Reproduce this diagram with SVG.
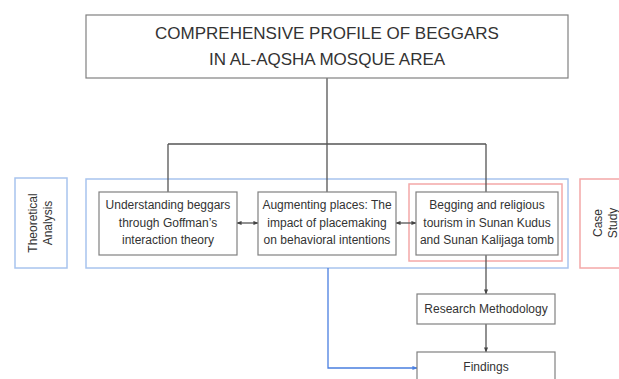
<svg xmlns="http://www.w3.org/2000/svg" width="619" height="379" viewBox="0 0 619 379">
<style>
text{font-family:"Liberation Sans",Arial,sans-serif;fill:#333;text-anchor:middle}
.t{font-size:17px}
.n{font-size:12px}
.box{fill:#fff;stroke:#808080;stroke-width:1.2}
.blue{fill:none;stroke:#a8c4ee;stroke-width:1.5}
.red{fill:none;stroke:#f4a8a8;stroke-width:1.5}
.c{fill:none;stroke:#555;stroke-width:1.3}
.cb{fill:none;stroke:#4a7fe0;stroke-width:1.3}
</style>
<defs>
<marker id="a" viewBox="0 0 6 6" refX="5.5" refY="3" markerWidth="5" markerHeight="5" orient="auto-start-reverse" markerUnits="userSpaceOnUse"><path d="M0,0.5L6,3L0,5.5z" fill="#444"/></marker>
<marker id="ab" viewBox="0 0 6 6" refX="5.5" refY="3" markerWidth="5" markerHeight="5" orient="auto" markerUnits="userSpaceOnUse"><path d="M0,0.5L6,3L0,5.5z" fill="#4a7fe0"/></marker>
</defs>
<rect width="619" height="379" fill="#fff"/>
<g id="theoretical">
<rect class="blue" x="15" y="178" width="52" height="90"/>
<text class="n" transform="translate(37,223) rotate(-90)">Theoretical</text>
<text class="n" transform="translate(52,223) rotate(-90)">Analysis</text>
</g>
<g id="theory-group"><rect class="blue" x="86" y="179" width="482" height="89"/></g>
<g id="case-group"><rect class="red" x="409" y="184" width="153" height="77"/></g>
<g id="case">
<rect class="red" x="580" y="179" width="50" height="89"/>
<text class="n" transform="translate(602,223) rotate(-90)">Case</text>
<text class="n" transform="translate(617,223) rotate(-90)">Study</text>
</g>
<g id="connectors">
<path class="c" d="M327,78V192M168,144H486M168,144V192M486,144V192"/>
<path class="c" d="M237,223H258" marker-start="url(#a)" marker-end="url(#a)"/>
<path class="c" d="M396,223H416" marker-start="url(#a)" marker-end="url(#a)"/>
<path class="c" d="M486,255V294" marker-end="url(#a)"/>
<path class="c" d="M486,324V352" marker-end="url(#a)"/>
<path class="cb" d="M328,268V368H417" marker-end="url(#ab)"/>
</g>
<g id="title">
<rect class="box" x="86" y="15" width="482" height="63"/>
<text class="t" x="327" y="39">COMPREHENSIVE PROFILE OF BEGGARS</text>
<text class="t" x="327" y="65">IN AL-AQSHA MOSQUE AREA</text>
</g>
<g id="goffman">
<rect class="box" x="99" y="192" width="138" height="63"/>
<text class="n" x="168" y="209">Understanding beggars</text>
<text class="n" x="168" y="227">through Goffman’s</text>
<text class="n" x="168" y="244">interaction theory</text>
</g>
<g id="placemaking">
<rect class="box" x="258" y="192" width="138" height="63"/>
<text class="n" x="327" y="209">Augmenting places: The</text>
<text class="n" x="327" y="227">impact of placemaking</text>
<text class="n" x="327" y="244">on behavioral intentions</text>
</g>
<g id="begging">
<rect class="box" x="416" y="192" width="142" height="63"/>
<text class="n" x="487" y="209">Begging and religious</text>
<text class="n" x="487" y="227">tourism in Sunan Kudus</text>
<text class="n" x="487" y="244">and Sunan Kalijaga tomb</text>
</g>
<g id="methodology">
<rect class="box" x="417" y="294" width="138" height="30"/>
<text class="n" x="486" y="313">Research Methodology</text>
</g>
<g id="findings">
<rect class="box" x="417" y="352" width="138" height="40"/>
<text class="n" x="486" y="371">Findings</text>
</g>
</svg>
